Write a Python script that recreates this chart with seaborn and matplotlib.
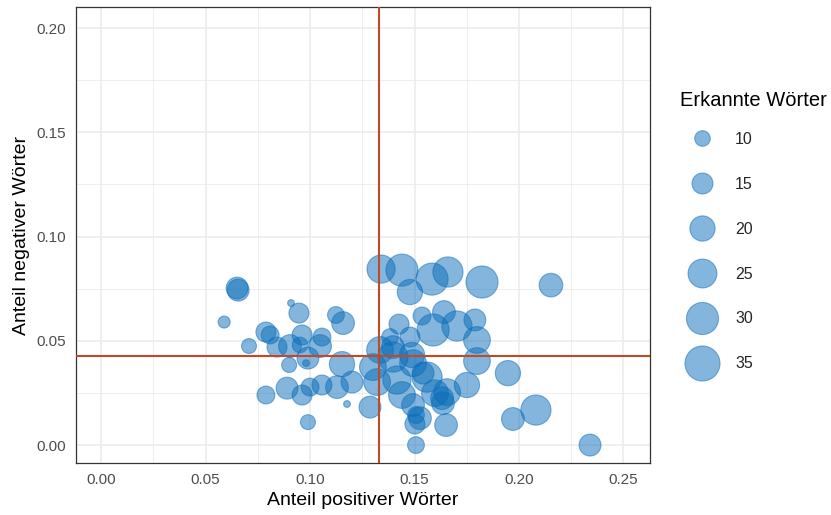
import numpy as np
import pandas as pd
import matplotlib
matplotlib.use("Agg")
import matplotlib.pyplot as plt
from matplotlib.lines import Line2D
from matplotlib.ticker import MultipleLocator
import seaborn as sns

# Share of positive / negative words per text, and number of recognised words
anteil_positiv = [
    0.0651, 0.0656, 0.0589, 0.0708, 0.0789, 0.0809, 0.0842, 0.0909, 0.0947, 0.0900,
    0.0962, 0.0904, 0.0952, 0.0990, 0.0981, 0.1057, 0.1048, 0.1124, 0.1158, 0.1153,
    0.1201, 0.1129, 0.1057, 0.1000, 0.0962, 0.0890, 0.0789, 0.1177, 0.1287, 0.0990,
    0.1340, 0.1440, 0.1478, 0.1584, 0.1660, 0.1823, 0.2153, 0.1426, 0.1536, 0.1641,
    0.1589, 0.1703, 0.1789, 0.1799, 0.1799, 0.1947, 0.1751, 0.2081, 0.1971, 0.2340,
    0.1651, 0.1507, 0.1502, 0.1507, 0.1493, 0.1632, 0.1656, 0.1560, 0.1541, 0.1440,
    0.1416, 0.1397, 0.1335, 0.1488, 0.1301, 0.1321, 0.1383, 0.1397, 0.1493, 0.1478,
    0.1526, 0.1598, 0.1636,
]
anteil_negativ = [
    0.0753, 0.0743, 0.0590, 0.0475, 0.0542, 0.0528, 0.0470, 0.0681, 0.0633, 0.0384,
    0.0528, 0.0475, 0.0480, 0.0417, 0.0393, 0.0518, 0.0475, 0.0624, 0.0585, 0.0388,
    0.0302, 0.0278, 0.0288, 0.0278, 0.0240, 0.0273, 0.0240, 0.0197, 0.0182, 0.0110,
    0.0844, 0.0839, 0.0734, 0.0796, 0.0830, 0.0782, 0.0767, 0.0580, 0.0619, 0.0638,
    0.0552, 0.0571, 0.0600, 0.0504, 0.0403, 0.0345, 0.0288, 0.0168, 0.0125, 0.0000,
    0.0096, 0.0000, 0.0101, 0.0144, 0.0192, 0.0225, 0.0254, 0.0326, 0.0345, 0.0240,
    0.0312, 0.0470, 0.0456, 0.0432, 0.0374, 0.0302, 0.0518, 0.0422, 0.0393, 0.0518,
    0.0129, 0.0249, 0.0201,
]
erkannte_woerter = [
    16, 16, 7.5, 9.5, 14, 12, 14, 5, 14, 9.5,
    14, 17, 10, 16, 5, 12, 17, 11, 17, 20,
    16, 17, 14, 12, 14, 16, 12, 5, 16, 9.5,
    24, 30, 20, 30, 27, 30, 18, 14, 12, 17,
    30, 27, 16, 22, 22, 20, 20, 27, 17, 16,
    17, 11, 14, 11, 17, 17, 22, 27, 16, 22,
    24, 17, 22, 20, 22, 22, 11, 27, 22, 14,
    17, 22, 17,
]

# Reference lines (averages of both shares)
mittel_positiv = 0.133
mittel_negativ = 0.0427

legend_breaks = [10, 15, 20, 25, 30, 35]

df = pd.DataFrame({
    "positiv": anteil_positiv,
    "negativ": anteil_negativ,
    "woerter": erkannte_woerter,
})

sns.set_style("white")
plt.rcParams["font.family"] = ["Liberation Sans", "DejaVu Sans"]

punkt_farbe = "#0A6DBA"
linien_farbe = "#C04A28"
size_lo, size_hi = 5, 35
area_lo, area_hi = 24, 636


def area(v):
    return area_lo + (v - size_lo) / (size_hi - size_lo) * (area_hi - area_lo)


fig = plt.figure(figsize=(8.31, 5.15), dpi=100)
ax = fig.add_axes([76 / 831, 1 - 463 / 515, (650 - 76) / 831, (463 - 7) / 515])

# grid (major + minor), drawn below the data
ax.set_axisbelow(True)
ax.xaxis.set_major_locator(MultipleLocator(0.05))
ax.yaxis.set_major_locator(MultipleLocator(0.05))
ax.xaxis.set_minor_locator(MultipleLocator(0.025))
ax.yaxis.set_minor_locator(MultipleLocator(0.025))
ax.grid(which="major", color="#EBEBEB", linewidth=1.1)
ax.grid(which="minor", color="#EBEBEB", linewidth=0.6)

sns.scatterplot(
    data=df, x="positiv", y="negativ", size="woerter",
    sizes=(area_lo, area_hi), size_norm=(size_lo, size_hi),
    color=punkt_farbe, edgecolor=punkt_farbe, linewidth=0.8,
    alpha=0.5, legend=False, ax=ax, zorder=3,
)

ax.axvline(mittel_positiv, color=linien_farbe, linewidth=1.5, zorder=4)
ax.axhline(mittel_negativ, color=linien_farbe, linewidth=1.5, zorder=4)

ax.set_xlim(-0.012, 0.2627)
ax.set_ylim(-0.0086, 0.2101)
ax.set_xticks([0, 0.05, 0.10, 0.15, 0.20, 0.25])
ax.set_yticks([0, 0.05, 0.10, 0.15, 0.20])
ax.set_xticklabels(["0.00", "0.05", "0.10", "0.15", "0.20", "0.25"])
ax.set_yticklabels(["0.00", "0.05", "0.10", "0.15", "0.20"])

ax.tick_params(which="major", direction="out", length=4, width=0.8,
               color="#333333", labelsize=11, labelcolor="#4D4D4D", pad=3)
ax.tick_params(which="minor", length=0)

for s in ax.spines.values():
    s.set_color("#333333")
    s.set_linewidth(0.9)

ax.set_xlabel("Anteil positiver Wörter", fontsize=14, color="black", labelpad=4)
ax.set_ylabel("Anteil negativer Wörter", fontsize=14, color="black", labelpad=5)

# size legend
handles = [
    Line2D([], [], linestyle="", marker="o", markersize=np.sqrt(area(v)),
           markerfacecolor=punkt_farbe, markeredgecolor=punkt_farbe,
           markeredgewidth=0.8, alpha=0.5)
    for v in legend_breaks
]
fig.text(680 / 831, 1 - 100 / 515, "Erkannte Wörter", fontsize=14.5,
         color="black", ha="left", va="center")
leg = fig.legend(
    handles, [str(v) for v in legend_breaks],
    loc="upper left",
    bbox_to_anchor=(680 / 831, 1 - 132 / 515),
    frameon=False, fontsize=11.5,
    labelspacing=1.87, handlelength=2.7, handletextpad=0.75, borderpad=0,
    borderaxespad=0,
)

fig.savefig("out.png", dpi=100)
